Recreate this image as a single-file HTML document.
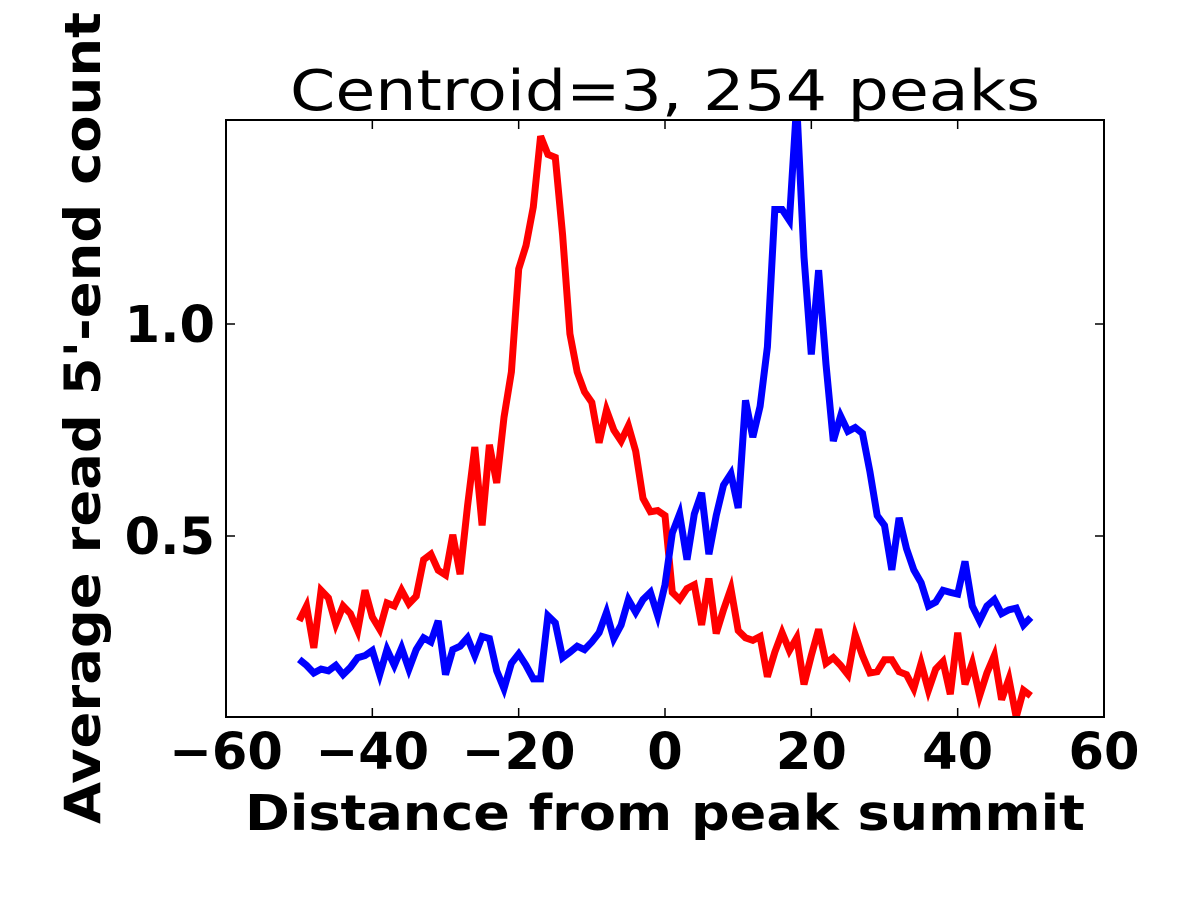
<!DOCTYPE html>
<html><head><meta charset="utf-8"><style>html,body{margin:0;padding:0;background:#fff}svg{display:block}</style></head>
<body>
<svg id="chart" width="1200" height="900" xmlns="http://www.w3.org/2000/svg" font-family="'DejaVu Sans','Liberation Sans',sans-serif">
<rect width="1200" height="900" fill="#fff"/>
<defs><clipPath id="clip"><rect x="226" y="120" width="878" height="597"/></clipPath></defs>
<text x="665" y="110" font-size="56" text-anchor="middle" textLength="750" lengthAdjust="spacingAndGlyphs">Centroid=3, 254 peaks</text>
<g id="plot" clip-path="url(#clip)"></g>
<rect x="226" y="120" width="878" height="597" fill="none" stroke="#000" stroke-width="2"/>
<g id="axes"></g>
<text x="665" y="830" font-size="49" font-weight="bold" text-anchor="middle" textLength="840" lengthAdjust="spacingAndGlyphs">Distance from peak summit</text>
<text transform="translate(100,418) rotate(-90)" font-size="50" font-weight="bold" text-anchor="middle" textLength="812" lengthAdjust="spacingAndGlyphs">Average read 5'-end count</text>
</svg>
<script>
const xs = [];
for (let i = -50; i <= 50; i++) xs.push(i);
const redValues = [0.30,0.335,0.236,0.372,0.354,0.292,0.335,0.317,0.277,0.372,0.309,0.28,0.342,0.335,0.372,0.34,0.358,0.444,0.457,0.419,0.408,0.503,0.41,0.57,0.71,0.525,0.715,0.625,0.78,0.887,1.13,1.185,1.276,1.443,1.40,1.393,1.21,0.977,0.887,0.84,0.815,0.72,0.797,0.75,0.724,0.76,0.70,0.589,0.557,0.56,0.548,0.367,0.35,0.376,0.385,0.29,0.40,0.27,0.326,0.376,0.277,0.26,0.254,0.263,0.168,0.226,0.272,0.23,0.26,0.15,0.218,0.28,0.2,0.213,0.195,0.173,0.267,0.218,0.177,0.18,0.208,0.208,0.18,0.173,0.14,0.2,0.136,0.186,0.204,0.127,0.272,0.15,0.2,0.123,0.177,0.218,0.114,0.163,0.073,0.136,0.123];
const blueValues = [0.209,0.195,0.177,0.186,0.182,0.195,0.173,0.19,0.213,0.218,0.23,0.173,0.232,0.195,0.236,0.186,0.232,0.26,0.25,0.3,0.173,0.232,0.24,0.26,0.218,0.263,0.258,0.182,0.14,0.2,0.222,0.195,0.163,0.163,0.312,0.295,0.213,0.226,0.24,0.232,0.25,0.272,0.32,0.258,0.29,0.35,0.32,0.35,0.367,0.312,0.385,0.507,0.552,0.444,0.552,0.602,0.457,0.548,0.62,0.647,0.566,0.82,0.733,0.806,0.946,1.27,1.27,1.244,1.52,1.158,0.928,1.127,0.905,0.724,0.783,0.747,0.756,0.742,0.652,0.548,0.525,0.42,0.543,0.47,0.42,0.39,0.335,0.344,0.372,0.367,0.363,0.44,0.335,0.30,0.335,0.35,0.317,0.326,0.33,0.29,0.308];
const xTicks = [-60,-40,-20,0,20,40,60];
const xTickLabels = ["\u221260","\u221240","\u221220","0","20","40","60"];
const yTicks = [0.5,1.0];
const yTickLabels = ["0.5","1.0"];

const NS = "http://www.w3.org/2000/svg";
const X = v => 665 + v * (878 / 120);
const Y = v => 748 - v * 424;
const plot = document.getElementById('plot');
const axes = document.getElementById('axes');

function drawLine(vals, color, name) {
  const p = document.createElementNS(NS, 'polyline');
  p.setAttribute('points', vals.map((v, i) => X(xs[i]).toFixed(1) + ',' + Y(v).toFixed(1)).join(' '));
  p.setAttribute('fill', 'none');
  p.setAttribute('stroke', color);
  p.setAttribute('stroke-width', '7');
  p.setAttribute('stroke-linejoin', 'miter');
  
  
  plot.appendChild(p);
}
drawLine(redValues, '#ff0000', 'red-series-line');
drawLine(blueValues, '#0000ff', 'blue-series-line');

xTicks.forEach((t, i) => {
  const x = X(t);
  const tk = document.createElementNS(NS, 'path');
  tk.setAttribute('d', `M${x},717v-9M${x},120v9`);
  tk.setAttribute('stroke', '#000');
  tk.setAttribute('stroke-width', '1.5');
  
  
  axes.appendChild(tk);
  const tx = document.createElementNS(NS, 'text');
  tx.setAttribute('x', x);
  tx.setAttribute('y', 769);
  tx.setAttribute('font-size', '51');
  tx.setAttribute('font-weight', 'bold');
  tx.setAttribute('text-anchor', 'middle');
  tx.textContent = xTickLabels[i];
  
  
  axes.appendChild(tx);
});
yTicks.forEach((t, i) => {
  const y = Y(t);
  const tk = document.createElementNS(NS, 'path');
  tk.setAttribute('d', `M226,${y}h9M1104,${y}h-9`);
  tk.setAttribute('stroke', '#000');
  tk.setAttribute('stroke-width', '1.5');
  
  
  axes.appendChild(tk);
  const tx = document.createElementNS(NS, 'text');
  tx.setAttribute('x', 215);
  tx.setAttribute('y', y + 18);
  tx.setAttribute('font-size', '51');
  tx.setAttribute('font-weight', 'bold');
  tx.setAttribute('text-anchor', 'end');
  tx.textContent = yTickLabels[i];
  
  
  axes.appendChild(tx);
});
</script>
</body></html>
